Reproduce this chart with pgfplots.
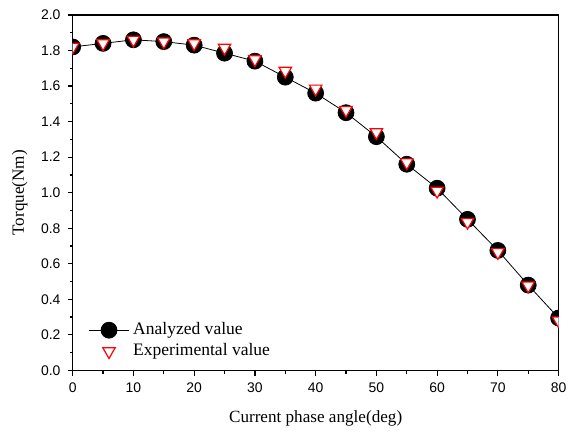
\documentclass[border=0pt]{standalone}
\usepackage{fontspec}
\setmainfont{Liberation Serif}
\setsansfont{Liberation Sans}
\usepackage{pgfplots}
\pgfplotsset{compat=1.18}

\pgfplotstableread{
ang  an    ex
0    1.82  1.82
5    1.84  1.84
10   1.86  1.86
15   1.85  1.85
20   1.83  1.84
25   1.785 1.815
30   1.74  1.75
35   1.65  1.685
40   1.56  1.585
45   1.45  1.465
50   1.315 1.34
55   1.16  1.17
60   1.025 1.01
65   0.85  0.835
70   0.675 0.665
75   0.48  0.477
80   0.295 0.28
}\torque

\begin{document}
\begin{tikzpicture}
\begin{axis}[
    scale only axis,
    width=244pt, height=178.5pt,
    xmin=0, xmax=80, ymin=0, ymax=2.0,
    xtick={0,10,...,80},
    ytick={0,0.2,...,2.01},
    minor x tick num=1,
    minor y tick num=1,
    tick align=outside,
    tick pos=left,
    major tick length=2.6pt,
    minor tick length=1.6pt,
    every tick/.style={black, line width=0.6pt},
    axis line style={line width=0.8pt},
    yticklabel style={/pgf/number format/fixed, /pgf/number format/fixed zerofill, /pgf/number format/precision=1},
    /pgf/number format/assume math mode=true,
    tick label style={font=\sffamily\fontsize{7}{8}\selectfont},
    xlabel={Current phase angle(deg)},
    ylabel={Torque(Nm)},
    label style={font=\fontsize{8.6}{10}\selectfont},
    xlabel style={yshift=-2pt},
    clip marker paths=true,
    legend cell align=left,
    legend style={at={(0.02,0.158)}, anchor=north west, draw=none, fill=none,
        font=\fontsize{8.8}{10}\selectfont, row sep=-1pt},
    legend image code/.code={\draw[mark repeat=2,mark phase=2] plot coordinates {(0cm,0cm)(0.35cm,0cm)(0.7cm,0cm)};},
]
\addplot[black, line width=0.4pt, mark=*, mark size=4pt, mark options={fill=black}] table[x=ang, y=an] {\torque};
\addlegendentry{Analyzed value}
\addplot[only marks, mark=triangle*, mark size=3.6pt, mark options={rotate=180, fill=white, draw=red, line width=0.6pt}] table[x=ang, y=ex] {\torque};
\addlegendentry{Experimental value}
\path (rel axis cs:0,0) coordinate (O) (rel axis cs:1,1) coordinate (T);
\end{axis}
\path ([shift={(-36.5pt,-30pt)}]O) rectangle ([shift={(6pt,7.5pt)}]T);
\end{tikzpicture}
\end{document}
